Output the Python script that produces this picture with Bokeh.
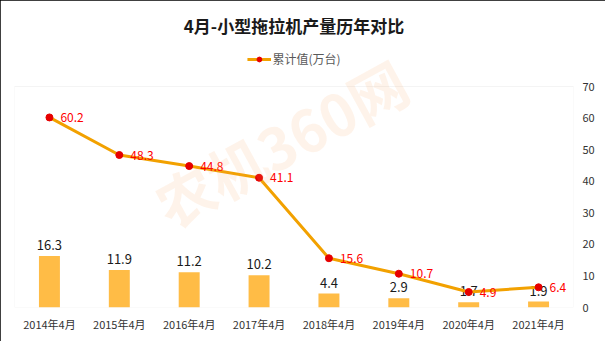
from bokeh.plotting import figure
from bokeh.models import (Range1d, LinearAxis, Legend, LegendItem, Title, Label,
                          FixedTicker, ColumnDataSource, BoxAnnotation)
from bokeh.core.properties import value
from bokeh.embed import file_html
from bokeh.resources import INLINE

categories = ["2014年4月", "2015年4月", "2016年4月", "2017年4月",
              "2018年4月", "2019年4月", "2020年4月", "2021年4月"]
bar_values = [16.3, 11.9, 11.2, 10.2, 4.4, 2.9, 1.7, 1.9]
line_values = [60.2, 48.3, 44.8, 41.1, 15.6, 10.7, 4.9, 6.4]
y_ticks = [0, 10, 20, 30, 40, 50, 60, 70]
title_text = "4月-小型拖拉机产量历年对比"
legend_text = "累计值(万台)"

FONT = "Noto Sans CJK SC"
Y_MAX = 70
# frame extends above the plot box to hold the legend
FRAME_TOP, BOX_TOP, BOX_BOTTOM = 42, 86, 307
Y_TOP = Y_MAX * (BOX_BOTTOM - FRAME_TOP) / (BOX_BOTTOM - BOX_TOP)

src = ColumnDataSource(dict(
    cat=categories,
    bar=bar_values,
    line=line_values,
    bar_lbl=[f"{v:.1f}" for v in bar_values],
    line_lbl=[f"{v:.1f}" for v in line_values],
))

p = figure(x_range=categories, y_range=Range1d(0, Y_TOP),
           width=605, height=341, output_backend="svg", toolbar_location=None,
           min_border_left=14, min_border_right=32, min_border_top=FRAME_TOP,
           min_border_bottom=341 - BOX_BOTTOM)
p.styles = {"outline": "2px solid #000000", "outline-offset": "-2px",
            "width": "605px", "height": "341px"}
p.yaxis.visible = False
p.xgrid.grid_line_color = None
p.ygrid.grid_line_color = None
p.outline_line_color = None
p.background_fill_color = "white"
p.border_fill_color = "white"

# plot-area box
p.add_layout(BoxAnnotation(bottom=0, top=Y_MAX, fill_alpha=0,
                           line_color="#D9D9D9", line_width=1))

# watermark
wm = Label(x=165, y=62, x_units="screen", y_units="screen", text="农机360网",
           angle=0.5, text_font=FONT, text_font_size="58px",
           text_font_style="bold", text_color="#F7A35C", text_alpha=0.13)
p.add_layout(wm)

# bars
p.vbar(x="cat", top="bar", width=0.3, source=src, fill_color="#FFBC46",
       line_color=None)
p.text(x="cat", y="bar", text="bar_lbl", source=src, text_align="center",
       text_baseline="bottom", y_offset=-6, text_font=value(FONT),
       text_font_size="13px", text_color="#1A1A1A")

# line
lr = p.line(x="cat", y="line", source=src, line_color="#F2A100", line_width=3)
sr = p.scatter(x="cat", y="line", source=src, size=7, fill_color="#E60000",
               line_color="#E60000")
p.text(x="cat", y="line", text="line_lbl", source=src, text_align="left",
       text_baseline="middle", x_offset=11, text_font=value(FONT),
       text_font_size="12px", text_color="#FF0000")

# right axis
ax = LinearAxis(ticker=FixedTicker(ticks=y_ticks))
ax.axis_line_color = None
ax.major_tick_line_color = None
ax.minor_tick_line_color = None
ax.major_label_text_font = FONT
ax.major_label_text_font_size = "11px"
ax.major_label_text_color = "#333333"
ax.major_label_standoff = 3
p.add_layout(ax, "right")

# x axis
p.xaxis.axis_line_color = None
p.xaxis.major_tick_line_color = None
p.xaxis.minor_tick_line_color = None
p.xaxis.major_label_text_font = FONT
p.xaxis.major_label_text_font_size = "11px"
p.xaxis.major_label_text_color = "#333333"
p.xaxis.major_label_standoff = 2

legend = Legend(items=[LegendItem(label=legend_text, renderers=[lr, sr])],
                orientation="horizontal", location="top_center",
                label_text_font=FONT, label_text_font_size="12px",
                label_text_color="#595959", glyph_width=24, glyph_height=12,
                border_line_color=None, background_fill_alpha=0,
                padding=2, margin=8, label_standoff=2)
p.add_layout(legend)

p.title = Title(text=title_text, align="center", text_font=FONT,
                text_font_size="17px", text_font_style="bold",
                text_color="#1A1A1A", offset=0)
p.title_location = "above"

open("out.html", "w").write(file_html(p, INLINE))
